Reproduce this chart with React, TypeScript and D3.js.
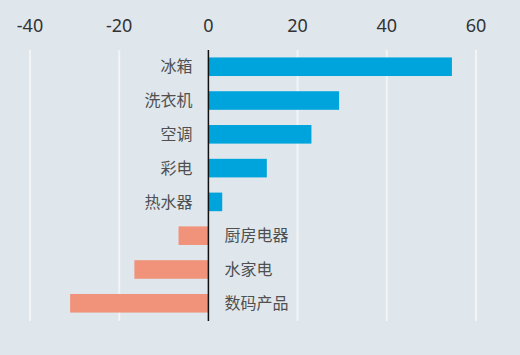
import React from "react";
import * as d3 from "d3";

const categories = ["冰箱", "洗衣机", "空调", "彩电", "热水器", "厨房电器", "水家电", "数码产品"];
const values = [54.6, 29.3, 23.1, 13.1, 3.1, -6.7, -16.6, -31.0];
const tickValues = [-40, -20, 0, 20, 40, 60];

const W = 520;
const H = 355;
const margin = { top: 50, right: 44, bottom: 34, left: 30 };

export default function App() {
  const x = d3.scaleLinear().domain([-40, 60]).range([30, 476]);
  const y = d3
    .scaleBand<string>()
    .domain(categories)
    .range([margin.top, H - margin.bottom - 1])
    .paddingInner(0.45)
    .paddingOuter(0.22);
  const x0 = x(0);
  return (
    <div style={{ position: "fixed", left: 0, top: 0, width: W, height: H }}>
      <svg width={W} height={H} style={{ display: "block" }}>
        <rect x={0} y={0} width={W} height={H} fill="#dfe7ed" />
        {tickValues.map((t) => (
          <g key={t}>
            {t !== 0 && (
              <line x1={x(t)} x2={x(t)} y1={50} y2={321} stroke="#f2f4f5" strokeWidth={2} />
            )}
            <text
              x={x(t)}
              y={32}
              textAnchor="middle"
              fontFamily="Noto Sans, sans-serif"
              fontSize={18}
              fill="#333"
            >
              {t}
            </text>
          </g>
        ))}
        {categories.map((c, i) => {
          const v = values[i];
          const yy = y(c)!;
          const bh = y.bandwidth();
          return (
            <g key={c}>
              <rect
                x={Math.min(x(v), x0)}
                y={yy}
                width={Math.abs(x(v) - x0)}
                height={bh}
                fill={v >= 0 ? "#00a4dc" : "#f0937a"}
              />
              <text
                x={v >= 0 ? x0 - 16 : x0 + 16}
                y={yy + bh / 2}
                dy="0.36em"
                textAnchor={v >= 0 ? "end" : "start"}
                fontFamily="Noto Sans CJK SC, sans-serif"
                fontSize={16}
                fill="#505050"
              >
                {c}
              </text>
            </g>
          );
        })}
        <line x1={x0} x2={x0} y1={50} y2={321} stroke="#111" strokeWidth={1.5} />
      </svg>
    </div>
  );
}
